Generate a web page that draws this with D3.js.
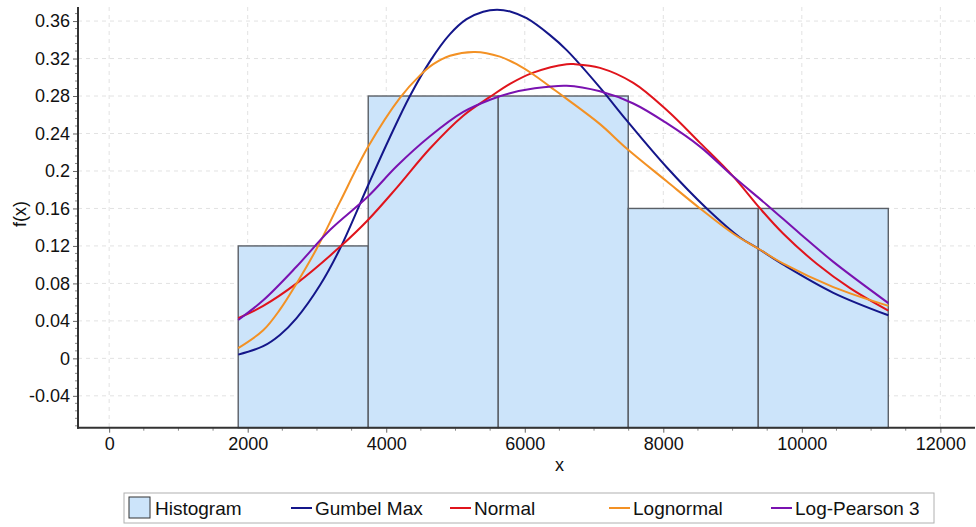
<!DOCTYPE html>
<html>
<head>
<meta charset="utf-8">
<script src="https://cdn.jsdelivr.net/npm/d3@7"></script>
<style>
  html, body { margin: 0; padding: 0; background: #fff; }
  svg { display: block; font-family: Arial, "Liberation Sans", sans-serif; }
</style>
</head>
<body>
<svg id="chart" width="976" height="527"></svg>
<script>
// ---------- data ----------
const binEdges = [1863, 3740, 5617, 7494, 9371, 11248];
const binFreq = [0.12, 0.28, 0.28, 0.16, 0.16];

const gumbelX = [1863, 2224, 2465, 2706, 3043, 3332, 3740, 4053, 4342, 4631, 4920, 5160, 5400, 5600, 5800, 6027, 6364, 6605, 7086, 7471, 8049, 8627, 9108, 9373, 9733, 10455, 11249];
const gumbelY = [0.004, 0.013, 0.025, 0.043, 0.078, 0.117, 0.185, 0.236, 0.280, 0.317, 0.346, 0.362, 0.370, 0.372, 0.370, 0.363, 0.345, 0.329, 0.289, 0.254, 0.204, 0.160, 0.129, 0.117, 0.100, 0.070, 0.046];

const normalX = [1863, 2224, 2706, 3332, 3740, 4150, 4631, 5112, 5498, 5786, 6123, 6605, 6725, 7086, 7567, 8049, 8530, 9011, 9397, 9733, 10215, 10696, 11249];
const normalY = [0.043, 0.056, 0.080, 0.119, 0.148, 0.182, 0.224, 0.259, 0.279, 0.293, 0.305, 0.314, 0.314, 0.310, 0.294, 0.265, 0.230, 0.194, 0.160, 0.133, 0.101, 0.075, 0.051];

const lognormalX = [1863, 2224, 2465, 2706, 2995, 3332, 3740, 4198, 4487, 4679, 4920, 5281, 5642, 5883, 6123, 6364, 6605, 7086, 7471, 8049, 8530, 9011, 9373, 9733, 10455, 11249];
const lognormalY = [0.011, 0.030, 0.052, 0.080, 0.117, 0.167, 0.226, 0.278, 0.302, 0.314, 0.323, 0.327, 0.322, 0.314, 0.303, 0.290, 0.277, 0.250, 0.224, 0.189, 0.160, 0.133, 0.117, 0.101, 0.076, 0.056];

const logPearsonX = [1863, 2224, 2706, 3187, 3740, 4150, 4631, 5112, 5498, 5786, 6123, 6605, 7086, 7567, 8049, 8530, 9011, 9493, 9974, 10455, 11249];
const logPearsonY = [0.041, 0.062, 0.098, 0.137, 0.173, 0.205, 0.237, 0.263, 0.276, 0.283, 0.288, 0.291, 0.285, 0.272, 0.251, 0.226, 0.194, 0.164, 0.133, 0.103, 0.059];

const xTicks = [0, 2000, 4000, 6000, 8000, 10000, 12000];
const yTicks = [-0.04, 0, 0.04, 0.08, 0.12, 0.16, 0.2, 0.24, 0.28, 0.32, 0.36];

const seriesNames = ["Gumbel Max", "Normal", "Lognormal", "Log-Pearson 3"];
const seriesColors = ["#14168a", "#e0141c", "#f39124", "#7a12b0"];
const histName = "Histogram";

// ---------- layout ----------
const svg = d3.select("#chart");
const mLeft = 78, mRight = 975, mTop = 7, mBottom = 427.7;

const x = d3.scaleLinear().domain([-450, 12500]).range([mLeft, mRight]);
const y = d3.scaleLinear().domain([-0.074, 0.375]).range([mBottom, mTop]);

// grid
const grid = svg.append("g");
grid.selectAll("line.vg").data(xTicks).join("line")
  .attr("x1", d => x(d)).attr("x2", d => x(d))
  .attr("y1", mTop).attr("y2", mBottom)
  .attr("stroke", "#e2e2e2").attr("stroke-width", 1).attr("stroke-dasharray", "4,4");
grid.selectAll("line.hg").data(yTicks).join("line")
  .attr("x1", mLeft).attr("x2", mRight)
  .attr("y1", d => y(d)).attr("y2", d => y(d))
  .attr("stroke", "#e2e2e2").attr("stroke-width", 1).attr("stroke-dasharray", "4,4");

// histogram
const bins = binFreq.map((f, i) => ({ x0: binEdges[i], x1: binEdges[i + 1], f }));
svg.append("g").selectAll("rect").data(bins).join("rect")
  .attr("x", d => x(d.x0))
  .attr("y", d => y(d.f))
  .attr("width", d => x(d.x1) - x(d.x0))
  .attr("height", d => mBottom - y(d.f))
  .attr("fill", "#cce4fa")
  .attr("stroke", "#5a5f66")
  .attr("stroke-width", 1.4);

// curves
const curves = [
  { xs: gumbelX, ys: gumbelY },
  { xs: normalX, ys: normalY },
  { xs: lognormalX, ys: lognormalY },
  { xs: logPearsonX, ys: logPearsonY }
];
const line = d3.line().x(d => x(d[0])).y(d => y(d[1])).curve(d3.curveCatmullRom.alpha(0.5));
curves.forEach((c, i) => {
  const pts = c.xs.map((v, j) => [v, c.ys[j]]);
  svg.append("path").datum(pts)
    .attr("d", line)
    .attr("fill", "none")
    .attr("stroke", seriesColors[i])
    .attr("stroke-width", 2);
});

// axes
const axisColor = "#333";
const xAxis = d3.axisBottom(x).tickValues(xTicks).tickSize(5).tickPadding(5).tickFormat(d3.format("d"));
const gx = svg.append("g").attr("transform", `translate(0,${mBottom})`).call(xAxis);
gx.select(".domain").remove();
gx.selectAll(".tick line").attr("stroke", "#666");
gx.selectAll("text").attr("font-size", 18).attr("fill", "#111").attr("font-family", "Arial, 'Liberation Sans', sans-serif");
const xMinor = d3.range(500, 12500, 500).filter(v => v % 2000 !== 0);
svg.append("g").selectAll("line").data(xMinor).join("line")
  .attr("x1", d => x(d)).attr("x2", d => x(d))
  .attr("y1", mBottom).attr("y2", mBottom + 3)
  .attr("stroke", "#888");

const yAxis = d3.axisLeft(y).tickValues(yTicks).tickSize(5).tickPadding(3)
  .tickFormat(d => String(+d.toFixed(2)));
const gy = svg.append("g").attr("transform", `translate(${mLeft},0)`).call(yAxis);
gy.select(".domain").remove();
gy.selectAll(".tick line").attr("stroke", "#666");
gy.selectAll("text").attr("font-size", 18).attr("fill", "#111").attr("font-family", "Arial, 'Liberation Sans', sans-serif");
const yMinor = d3.range(-72, 375, 8).map(v => v / 1000).filter(v => Math.abs(Math.round(v * 1000) % 40) !== 0);
svg.append("g").selectAll("line").data(yMinor).join("line")
  .attr("x1", mLeft - 3).attr("x2", mLeft)
  .attr("y1", d => y(d)).attr("y2", d => y(d))
  .attr("stroke", "#888");

// axis lines
svg.append("line").attr("x1", mLeft).attr("x2", mLeft).attr("y1", mTop).attr("y2", mBottom + 1)
  .attr("stroke", axisColor).attr("stroke-width", 2);
svg.append("line").attr("x1", mLeft - 1).attr("x2", mRight).attr("y1", mBottom).attr("y2", mBottom)
  .attr("stroke", axisColor).attr("stroke-width", 2);

// axis titles
svg.append("text").attr("x", x(6500)).attr("y", 471)
  .attr("text-anchor", "middle").attr("font-size", 18).attr("fill", "#111").text("x");
svg.append("text").attr("transform", "translate(26,214) rotate(-90)")
  .attr("text-anchor", "middle").attr("font-size", 18).attr("fill", "#111").text("f(x)");

// legend
const lg = svg.append("g");
lg.append("rect").attr("x", 124).attr("y", 493).attr("width", 810).attr("height", 30)
  .attr("fill", "#fff").attr("stroke", "#b0b0b0").attr("stroke-width", 1);
lg.append("rect").attr("x", 129).attr("y", 497).attr("width", 21).attr("height", 21)
  .attr("fill", "#cce4fa").attr("stroke", "#333").attr("stroke-width", 1);
lg.append("text").attr("x", 155).attr("y", 514.5).attr("font-size", 19).attr("fill", "#111").text(histName);
const itemX = [291, 450, 609, 771];
seriesNames.forEach((n, i) => {
  lg.append("line").attr("x1", itemX[i]).attr("x2", itemX[i] + 21).attr("y1", 508).attr("y2", 508)
    .attr("stroke", seriesColors[i]).attr("stroke-width", 2);
  lg.append("text").attr("x", itemX[i] + 24).attr("y", 514.5).attr("font-size", 19).attr("fill", "#111").text(n);
});
</script>
</body>
</html>
